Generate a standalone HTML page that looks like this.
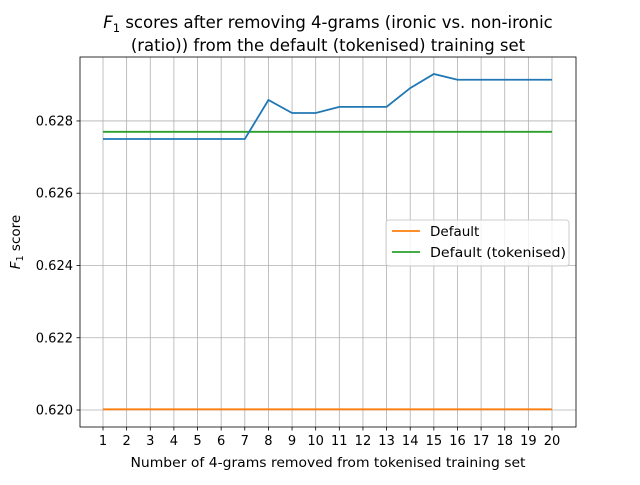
<!DOCTYPE html>
<html><head><meta charset="utf-8"><style>
body{margin:0;background:#fff;font-family:"Liberation Sans","DejaVu Sans",sans-serif}
svg text{font-family:"DejaVu Sans","Liberation Sans",sans-serif}
</style></head><body>
<svg id="chart" width="640" height="480" xmlns="http://www.w3.org/2000/svg"></svg>
<script>
const categories=[1,2,3,4,5,6,7,8,9,10,11,12,13,14,15,16,17,18,19,20];
const seriesRemoved=[0.6275,0.6275,0.6275,0.6275,0.6275,0.6275,0.6275,0.62858,0.62822,0.62822,0.62839,0.62839,0.62839,0.62891,0.6293,0.62914,0.62914,0.62914,0.62914,0.62914];
const defaultValue=[0.62002];
const defaultTokValue=[0.6277];
const yTicks=[0.620,0.622,0.624,0.626,0.628];
const yTickLabels=["0.620","0.622","0.624","0.626","0.628"];
const L=80,R=576,T=57,B=427,ymin=0.61953,ymax=0.62977;
const xs=v=>103+(v-1)*(552-103)/19;
const ys=v=>B-(v-ymin)/(ymax-ymin)*(B-T);
const svg=document.getElementById('chart');
const NS='http://www.w3.org/2000/svg';
function mk(tag,attrs,parent){const e=document.createElementNS(NS,tag);for(const k in attrs)e.setAttribute(k,attrs[k]);(parent||svg).appendChild(e);return e;}
categories.forEach(c=>{
 const g=mk('line',{x1:xs(c),x2:xs(c),y1:T,y2:B,stroke:'#b0b0b0','stroke-width':0.8});
 
 
 mk('line',{x1:xs(c),x2:xs(c),y1:B,y2:B+3.5,stroke:'#000','stroke-width':0.8});
 const t=mk('text',{x:xs(c),y:B+18,'text-anchor':'middle','font-size':13});t.textContent=c;
 
 
});
yTicks.forEach((v,i)=>{
 const g=mk('line',{x1:L,x2:R,y1:ys(v),y2:ys(v),stroke:'#b0b0b0','stroke-width':0.8});
 
 
 mk('line',{x1:L-3.5,x2:L,y1:ys(v),y2:ys(v),stroke:'#000','stroke-width':0.8});
 const t=mk('text',{x:L-7,y:ys(v)+4.5,'text-anchor':'end','font-size':13});t.textContent=yTickLabels[i];
 
 
});
function line(vals,color,name){
 const p=mk('polyline',{points:vals.map((v,i)=>xs(categories[i])+','+ys(v)).join(' '),fill:'none',stroke:color,'stroke-width':1.8});
 
 
}
line(categories.map(()=>defaultValue[0]),'#ff7f0e','default-line');
line(categories.map(()=>defaultTokValue[0]),'#2ca02c','default-tokenised-line');
line(seriesRemoved,'#1f77b4','removed-4grams-line');
const fr=mk('rect',{x:L,y:T,width:R-L,height:B-T,fill:'none',stroke:'#000','stroke-width':0.8});


</script>
<svg style="position:absolute;left:0;top:0" width="640" height="480">
<text x="328" y="28" text-anchor="middle" font-size="16.5"><tspan font-style="italic">F</tspan><tspan font-size="11.5" dy="4">1</tspan><tspan dy="-4"> scores after removing 4-grams (ironic vs. non-ironic</tspan></text>
<text x="328" y="51" text-anchor="middle" font-size="16.5">(ratio)) from the default (tokenised) training set</text>
<text x="328" y="467" text-anchor="middle" font-size="13.5" textLength="395" lengthAdjust="spacingAndGlyphs">Number of 4-grams removed from tokenised training set</text>
<text transform="translate(20,242) rotate(-90)" text-anchor="middle" font-size="13.5"><tspan font-style="italic">F</tspan><tspan font-size="9.5" dy="3">1</tspan><tspan dy="-3"> score</tspan></text>
<g>
<rect x="386" y="220" width="183" height="46" rx="3" fill="#fff" fill-opacity="0.8" stroke="#ccc"/>
<line x1="392" x2="420" y1="231" y2="231" stroke="#ff7f0e" stroke-width="1.8"/>
<text x="430" y="236" font-size="13.5">Default</text>
<line x1="392" x2="420" y1="252" y2="252" stroke="#2ca02c" stroke-width="1.8"/>
<text x="430" y="257" font-size="13.5" textLength="136" lengthAdjust="spacingAndGlyphs">Default (tokenised)</text>
</g>
</svg>
</body></html>
